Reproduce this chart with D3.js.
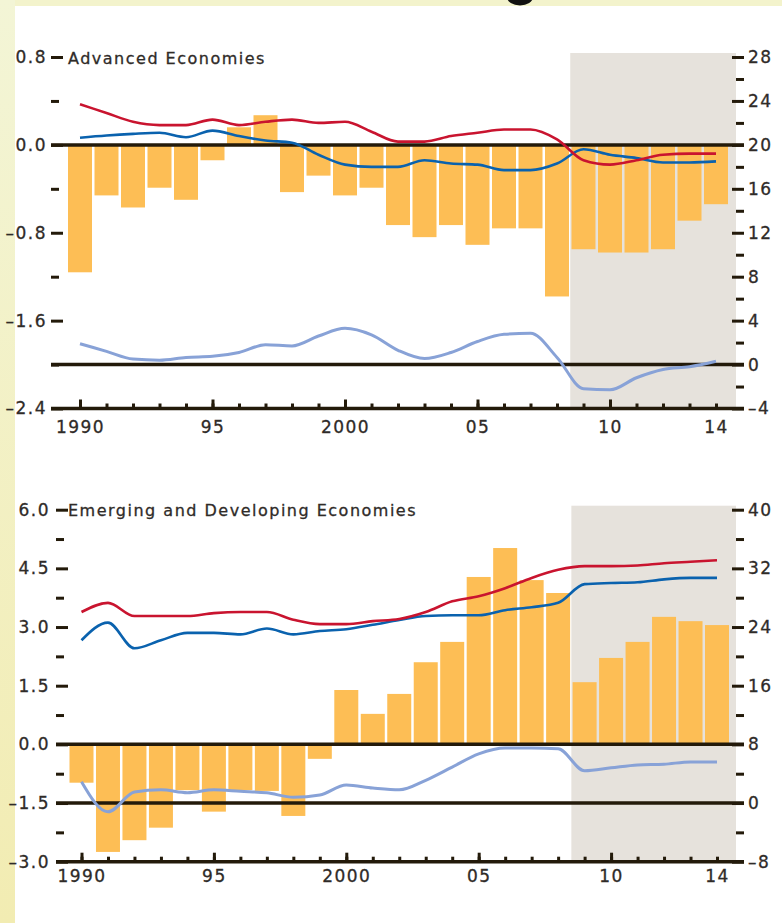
<!DOCTYPE html>
<html lang="en">
<head>
<meta charset="UTF-8">
<title>Saving, Investment and Current Account Balance</title>
<script src="https://cdn.jsdelivr.net/npm/d3@7"></script>
<style>
body { margin: 0; background: #fff; }
.axis path.domain { display: none; }
.axis line { stroke: #231a0a; stroke-width: 3; }
.axis text { font-family: "DejaVu Sans", sans-serif; font-size: 17px; fill: #2f2b28; stroke: #2f2b28; stroke-width: 0.3px; letter-spacing: 1.5px; }
.title { font-family: "DejaVu Sans", sans-serif; font-size: 16px; fill: #2f2b28; stroke: #2f2b28; stroke-width: 0.3px; letter-spacing: 1.5px; }
</style>
</head>
<body>
<script>
// categories
var years = [1990, 1991, 1992, 1993, 1994, 1995, 1996, 1997, 1998, 1999,
             2000, 2001, 2002, 2003, 2004, 2005, 2006, 2007, 2008, 2009,
             2010, 2011, 2012, 2013, 2014];
var majorYears = [1990, 1995, 2000, 2005, 2010];
var labelYears = [1990, 1995, 2000, 2005, 2010, 2014];
var yearLabels = ["1990", "95", "2000", "05", "10", "14"];
var projectionStart = 2008.5;

// Advanced Economies
var advTitle = "Advanced Economies";
var advLeftTicks = [0.8, 0, -0.8, -1.6, -2.4];
var advLeftLabels = ["0.8", "0.0", "\u20130.8", "\u20131.6", "\u20132.4"];
var advLeftMinor = [0.4, -0.4, -1.2, -2.0];
var advRightTicks = [28, 24, 20, 16, 12, 8, 4, 0, -4];
var advRightLabels = ["28", "24", "20", "16", "12", "8", "4", "0", "\u20134"];
var advRightMinor = [26, 22, 18, 14, 10, 6, 2, -2];
var advBalance = [-1.16, -0.46, -0.57, -0.39, -0.50, -0.14, 0.16, 0.27, -0.43, -0.28,
                  -0.46, -0.39, -0.73, -0.84, -0.73, -0.91, -0.76, -0.76, -1.38, -0.95,
                  -0.98, -0.98, -0.95, -0.69, -0.54];
var advSaving = [23.7, 22.9, 22.1, 21.8, 21.8, 22.3, 21.8, 22.1, 22.3, 22.0,
                 22.1, 21.2, 20.3, 20.3, 20.8, 21.1, 21.4, 21.4, 20.5, 18.6,
                 18.2, 18.6, 19.1, 19.2, 19.2];
var advInvestment = [20.65, 20.85, 21.0, 21.1, 20.7, 21.3, 20.8, 20.4, 20.2, 19.1,
                     18.2, 18.0, 18.0, 18.6, 18.3, 18.2, 17.7, 17.7, 18.3, 19.6,
                     19.1, 18.8, 18.4, 18.4, 18.5];
var advOther = [1.9, 1.2, 0.5, 0.4, 0.65, 0.75, 1.1, 1.8, 1.7, 2.6,
                3.3, 2.7, 1.3, 0.55, 1.1, 2.1, 2.75, 2.85, 0.65, -2.2,
                -2.3, -1.2, -0.45, -0.2, 0.3];

// Emerging and Developing Economies
var emgTitle = "Emerging and Developing Economies";
var emgLeftTicks = [6.0, 4.5, 3.0, 1.5, 0, -1.5, -3.0];
var emgLeftLabels = ["6.0", "4.5", "3.0", "1.5", "0.0", "\u20131.5", "\u20133.0"];
var emgLeftMinor = [5.25, 3.75, 2.25, 0.75, -0.75, -2.25];
var emgRightTicks = [40, 32, 24, 16, 8, 0, -8];
var emgRightLabels = ["40", "32", "24", "16", "8", "0", "\u20138"];
var emgRightMinor = [36, 28, 20, 12, 4, -4];
var emgBalance = [-0.98, -2.75, -2.45, -2.13, -1.17, -1.72, -1.17, -1.19, -1.83, -0.37,
                  1.39, 0.78, 1.29, 2.10, 2.62, 4.28, 5.02, 4.20, 3.87, 1.59,
                  2.21, 2.62, 3.26, 3.15, 3.05];
var emgSaving = [26.05, 27.3, 25.5, 25.5, 25.5, 25.9, 26.05, 26.05, 25.0, 24.4,
                 24.4, 24.8, 25.1, 26.05, 27.5, 28.2, 29.3, 30.7, 31.8, 32.3,
                 32.3, 32.4, 32.7, 32.9, 33.1];
var emgInvestment = [22.2, 24.6, 21.1, 22.2, 23.2, 23.2, 23.0, 23.8, 23.0, 23.45,
                     23.7, 24.3, 24.96, 25.5, 25.6, 25.6, 26.3, 26.7, 27.3, 29.85,
                     30.0, 30.1, 30.5, 30.7, 30.7];
var emgOther = [2.9, -1.2, 1.5, 1.8, 1.4, 1.8, 1.6, 1.4, 0.8, 1.1,
                2.45, 2.05, 1.8, 3.1, 4.9, 6.7, 7.5, 7.5, 7.4, 4.4,
                4.8, 5.2, 5.3, 5.6, 5.6];

var W = 782, H = 923;
var svg = d3.select("body").append("svg").attr("width", W).attr("height", H);

// page frame: cream strips at left and top
var grad = svg.append("defs").append("linearGradient")
  .attr("id", "strip").attr("x1", 0).attr("y1", 0).attr("x2", 0).attr("y2", 1);
grad.append("stop").attr("offset", "0%").attr("stop-color", "#f3f5d6");
grad.append("stop").attr("offset", "100%").attr("stop-color", "#f2ecb2");
svg.append("rect").attr("x", 0).attr("y", 0).attr("width", W).attr("height", 6).attr("fill", "#f3f3cc");
svg.append("rect").attr("x", 0).attr("y", 0).attr("width", 15).attr("height", H).attr("fill", "url(#strip)");
// bottom of the figure heading's descender, which is cut off above the frame
svg.append("ellipse").attr("cx", 520).attr("cy", -3).attr("rx", 13).attr("ry", 8.5).attr("fill", "#111");

function drawPanel(p) {
  var x = d3.scaleLinear().domain([1990, 2014]).range(p.xRange);
  var yL = d3.scaleLinear().domain([p.leftTicks[p.leftTicks.length - 1], p.leftTicks[0]]).range([p.bottom, p.top]);
  var yR = d3.scaleLinear().domain([p.rightTicks[p.rightTicks.length - 1], p.rightTicks[0]]).range([p.bottom, p.top]);
  var g = svg.append("g");

  // projection shading
  g.append("rect")
    .attr("x", x(projectionStart)).attr("y", p.top - 4)
    .attr("width", p.right - 8 - x(projectionStart)).attr("height", p.bottom - p.top + 4)
    .attr("fill", "#e6e2dc");

  // current account bars (left scale)
  var barW = 24;
  g.selectAll("rect.bar").data(years).enter().append("rect")
    .attr("class", "bar")
    .attr("x", function(d) { return x(d) - barW / 2; })
    .attr("width", barW)
    .attr("y", function(d, i) { return yL(Math.max(0, p.balance[i])); })
    .attr("height", function(d, i) { return Math.abs(yL(p.balance[i]) - yL(0)); })
    .attr("fill", "#fdbe55");

  // zero lines and x axis line
  [yL(0), yR(0), p.bottom].forEach(function(yy) {
    g.append("line").attr("x1", p.left).attr("x2", p.right).attr("y1", yy).attr("y2", yy)
      .attr("stroke", "#231a0a").attr("stroke-width", 3.5);
  });

  // series lines (right scale)
  var line = d3.line()
    .x(function(d, i) { return x(years[i]); })
    .y(function(d) { return yR(d); })
    .curve(d3.curveMonotoneX);
  g.append("path").datum(p.other).attr("d", line).attr("fill", "none")
    .attr("stroke", "#88a2d7").attr("stroke-width", 3);
  g.append("path").datum(p.investment).attr("d", line).attr("fill", "none")
    .attr("stroke", "#0a62ae").attr("stroke-width", 2.6);
  g.append("path").datum(p.saving).attr("d", line).attr("fill", "none")
    .attr("stroke", "#c9142f").attr("stroke-width", 2.6);

  // left axis
  g.append("g").attr("class", "axis").attr("transform", "translate(" + p.left + ",0)")
    .call(d3.axisLeft(yL).tickValues(p.leftMinor).tickSize(-8).tickFormat(""));
  g.append("g").attr("class", "axis").attr("transform", "translate(" + p.left + ",0)")
    .call(d3.axisLeft(yL).tickValues(p.leftTicks).tickSize(-12).tickPadding(p.leftPad)
      .tickFormat(function(d, i) { return p.leftLabels[i]; }));

  // right axis
  g.append("g").attr("class", "axis").attr("transform", "translate(" + p.right + ",0)")
    .call(d3.axisRight(yR).tickValues(p.rightMinor).tickSize(-8).tickFormat(""));
  g.append("g").attr("class", "axis").attr("transform", "translate(" + p.right + ",0)")
    .call(d3.axisRight(yR).tickValues(p.rightTicks).tickSize(-12).tickPadding(4)
      .tickFormat(function(d, i) { return p.rightLabels[i]; }));

  // bottom axis
  g.append("g").attr("class", "axis").attr("transform", "translate(0," + p.bottom + ")")
    .call(d3.axisBottom(x).tickValues(years).tickSize(-5).tickFormat(""));
  g.append("g").attr("class", "axis").attr("transform", "translate(0," + p.bottom + ")")
    .call(d3.axisBottom(x).tickValues(majorYears).tickSize(-9).tickFormat(""));
  g.append("g").attr("class", "axis").attr("transform", "translate(0," + p.bottom + ")")
    .call(d3.axisBottom(x).tickValues(labelYears).tickSize(0).tickPadding(p.xPad)
      .tickFormat(function(d, i) { return yearLabels[i]; }));

  // panel title
  g.append("text").attr("class", "title").attr("x", 68).attr("y", p.titleY).text(p.title);
}

drawPanel({
  title: advTitle, titleY: 64,
  top: 57, bottom: 408.5, left: 51, right: 744, xRange: [80, 716], leftPad: 4, xPad: 12,
  leftTicks: advLeftTicks, leftLabels: advLeftLabels, leftMinor: advLeftMinor,
  rightTicks: advRightTicks, rightLabels: advRightLabels, rightMinor: advRightMinor,
  balance: advBalance, saving: advSaving, investment: advInvestment, other: advOther
});

drawPanel({
  title: emgTitle, titleY: 516,
  top: 509.7, bottom: 861.7, left: 56, right: 744, xRange: [81.5, 717], leftPad: 6, xPad: 8,
  leftTicks: emgLeftTicks, leftLabels: emgLeftLabels, leftMinor: emgLeftMinor,
  rightTicks: emgRightTicks, rightLabels: emgRightLabels, rightMinor: emgRightMinor,
  balance: emgBalance, saving: emgSaving, investment: emgInvestment, other: emgOther
});
</script>
</body>
</html>
